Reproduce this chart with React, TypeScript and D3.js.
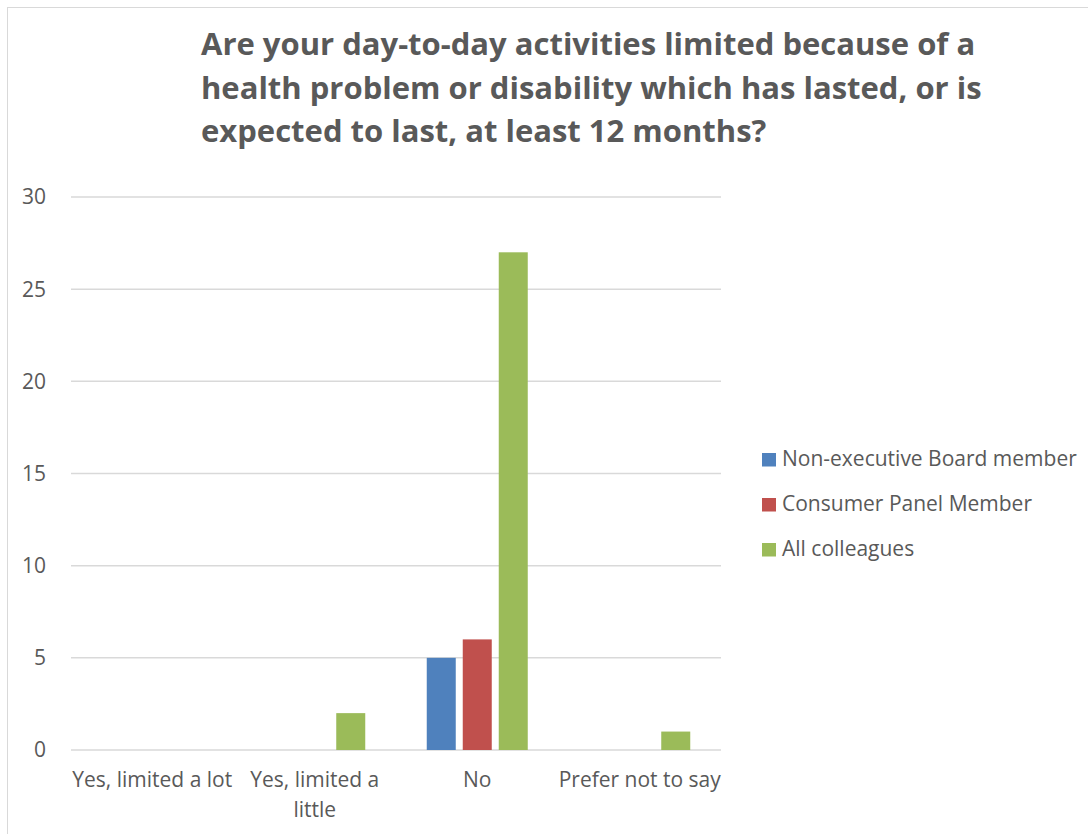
import React from "react";
import * as d3 from "d3";

const categories = ["Yes, limited a lot", "Yes, limited a little", "No", "Prefer not to say"];
const categoryLines = [["Yes, limited a lot"], ["Yes, limited a", "little"], ["No"], ["Prefer not to say"]];
const seriesNames = ["Non-executive Board member", "Consumer Panel Member", "All colleagues"];
const seriesColors = ["#4F81BD", "#C0504D", "#9BBB59"];
const nonExecutive = [0, 0, 5, 0];
const consumerPanel = [0, 0, 6, 0];
const allColleagues = [0, 2, 27, 1];
const yTicks = [0, 5, 10, 15, 20, 25, 30];
const titleLines = [
  "Are your day-to-day activities limited because of a",
  "health problem or disability which has lasted, or is",
  "expected to last, at least 12 months?",
];

const W = 1088;
const H = 834;
const FONT = "'Open Sans', sans-serif";
const TEXT = "#595959";

export default function App() {
  const series = [nonExecutive, consumerPanel, allColleagues];
  const x = d3.scaleBand<string>().domain(categories).range([71, 721]).paddingInner(0).paddingOuter(0);
  const y = d3.scaleLinear().domain([0, 30]).range([750, 197]);
  const slot = 36;
  const barW = 29;
  const sub = d3.scaleBand<number>().domain([0, 1, 2]).range([-slot * 1.5, slot * 1.5]);

  return (
    <svg width={W} height={H} style={{ position: "absolute", left: 0, top: 0, background: "#fff" }} fontFamily={FONT}>
      <rect x={7.5} y={7.5} width={W} height={H} fill="#fff" stroke="#D9D9D9" strokeWidth={1} />
      {titleLines.map((t, i) => (
        <text key={i} x={201} y={55 + i * 43.5} fontSize={31} fontWeight={700} fill={TEXT}>
          {t}
        </text>
      ))}
      {yTicks.map((t) => (
        <g key={t}>
          <line x1={71} x2={721} y1={y(t)} y2={y(t)} stroke="#D9D9D9" strokeWidth={1.5} />
          <text x={46} y={y(t)} dy="0.35em" textAnchor="end" fontSize={21} fill={TEXT}>
            {t}
          </text>
        </g>
      ))}
      {categories.map((c, ci) => {
        const cx = (x(c) as number) + x.bandwidth() / 2;
        return (
          <g key={c}>
            {series.map((s, si) => {
              const v = s[ci];
              if (!v) return null;
              const bx = cx + (sub(si) as number) + (sub.bandwidth() - barW) / 2;
              return <rect key={si} x={bx} y={y(v)} width={barW} height={y(0) - y(v)} fill={seriesColors[si]} />;
            })}
            {categoryLines[ci].map((ln, li) => (
              <text key={li} x={cx} y={787 + li * 30} textAnchor="middle" fontSize={21} fill={TEXT}>
                {ln}
              </text>
            ))}
          </g>
        );
      })}
      {seriesNames.map((n, i) => (
        <g key={n}>
          <rect x={762} y={453 + i * 45} width={14} height={13.5} fill={seriesColors[i]} />
          <text x={782} y={459 + i * 45} dy="0.35em" fontSize={21} fill={TEXT}>
            {n}
          </text>
        </g>
      ))}
    </svg>
  );
}
